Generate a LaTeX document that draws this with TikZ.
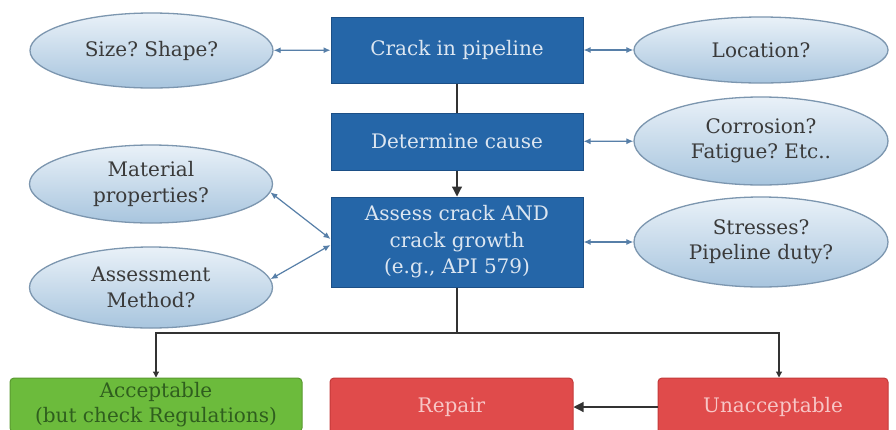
\documentclass[tikz,border=0pt]{standalone}
\usepackage{fontspec}
\setmainfont{DejaVu Serif}
\usetikzlibrary{shapes.geometric,arrows.meta}
\frenchspacing
\definecolor{boxblue}{HTML}{2566A8}
\definecolor{boxblueb}{HTML}{1C4F86}
\definecolor{boxtext}{HTML}{DCE6F1}
\definecolor{elltop}{HTML}{E9F1F8}
\definecolor{ellbot}{HTML}{A8C5DE}
\definecolor{elldraw}{HTML}{7C96AF}
\definecolor{elltext}{HTML}{3A3A3A}
\definecolor{linkblue}{HTML}{577FA8}
\definecolor{okgreen}{HTML}{6CBB3C}
\definecolor{okgreenb}{HTML}{5A9A30}
\definecolor{oktext}{HTML}{2F5E1E}
\definecolor{badred}{HTML}{E04B4B}
\definecolor{badredb}{HTML}{C43A3A}
\definecolor{badtext}{HTML}{F7C6C6}
\definecolor{flow}{HTML}{333333}
\tikzset{
  bluebox/.style={rectangle, fill=boxblue, draw=boxblueb, line width=1pt, text=boxtext,
    minimum width=252pt, align=center, font=\fontsize{20}{26.5}\selectfont, inner sep=0pt},
  bubble/.style={ellipse, top color=elltop, bottom color=ellbot, draw=elldraw, line width=1.3pt,
    text=elltext, align=center, font=\fontsize{20}{25.5}\selectfont, inner sep=0pt},
  okbox/.style={rectangle, rounded corners=4pt, fill=okgreen, draw=okgreenb, line width=1pt,
    text=oktext, align=center, font=\fontsize{20}{25}\selectfont, inner sep=0pt},
  badbox/.style={rectangle, rounded corners=4pt, fill=badred, draw=badredb, line width=1pt,
    text=badtext, align=center, font=\fontsize{20}{26}\selectfont, inner sep=0pt},
  link/.style={draw=linkblue, line width=1.2pt, {Latex[length=7pt,width=6pt]}-{Latex[length=7pt,width=6pt]}},
  flowline/.style={draw=flow, line width=1.2pt},
  flowarrow/.style={draw=flow, line width=1.2pt, -{Triangle[length=6pt,width=6pt]}},
  bigarrow/.style={draw=flow, line width=1.2pt, -{Triangle[length=10pt,width=10pt]}}
}
\begin{document}
\begin{tikzpicture}[x=1pt,y=-1pt]
\useasboundingbox (0,0) rectangle (896,429);
\clip (0,0) rectangle (896,429);
\fill[white] (0,0) rectangle (896,429);
% main boxes
\node[bluebox, minimum height=66pt] (crack) at (457,50) {Crack in pipeline};
\node[bluebox, minimum height=57pt] (cause) at (457,141.5) {Determine cause};
\node[bluebox, minimum height=90pt] (assess) at (457,242) {Assess crack AND\\crack growth\\(e.g., API 579)};
% ellipses
\node[bubble, minimum width=243pt, minimum height=75pt] (size) at (151.5,50.5) {Size? Shape?};
\node[bubble, minimum width=254pt, minimum height=66pt] (loc) at (761,50) {Location?};
\node[bubble, minimum width=254pt, minimum height=88pt] (corr) at (761,141) {Corrosion?\\Fatigue? Etc..};
\node[bubble, minimum width=243pt, minimum height=78pt] (mat) at (151,184) {Material\\properties?};
\node[bubble, minimum width=243pt, minimum height=81pt] (meth) at (151,287.5) {Assessment\\Method?};
\node[bubble, minimum width=254pt, minimum height=90pt] (stress) at (761,242) {Stresses?\\Pipeline duty?};
% outcome boxes
\node[okbox, minimum width=292pt, minimum height=54pt] (ok) at (156,405) {Acceptable\\(but check Regulations)};
\node[badbox, minimum width=243pt, minimum height=58pt] (repair) at (451.5,407) {Repair};
\node[badbox, minimum width=230pt, minimum height=58pt] (unacc) at (773,407) {Unacceptable};
% links
\draw[link] (size) -- (crack);
\draw[link] (crack) -- (loc);
\draw[link] (cause) -- (corr);
\draw[link] (assess) -- (stress);
\draw[link] (mat.-4) -- ([yshift=3pt]assess.west);
\draw[link] (meth.4) -- ([yshift=-3pt]assess.west);
% flow
\draw[flowline] (crack) -- (cause);
\draw[bigarrow] (cause) -- (assess);
\coordinate (split) at (457,333);
\draw[flowline] (assess) -- (split);
\draw[flowarrow] (split) -| (ok.north);
\draw[flowarrow] (split) -| ([xshift=6pt]unacc.north);
\draw[bigarrow] (unacc) -- (repair);
\end{tikzpicture}
\end{document}
